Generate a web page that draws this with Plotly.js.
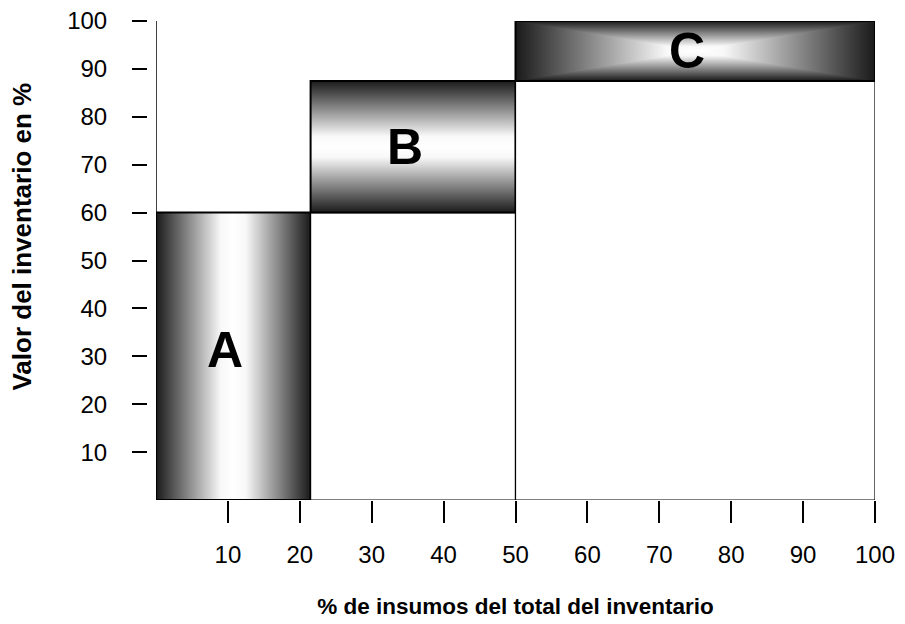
<!DOCTYPE html>
<html>
<head>
<meta charset="utf-8">
<script src="https://cdn.plot.ly/plotly-3.0.1.min.js"></script>
<style>html,body{margin:0;padding:0;background:#fff;}#chart{width:905px;height:624px;}</style>
</head>
<body>
<div id="chart"></div>
<script>
// ---- data ----
const classes = ['A', 'B', 'C'];
const cumItemsPct = [21.5, 50, 100];     // cumulative % of items (x)
const cumValuePct = [60, 87.5, 100];     // cumulative % of inventory value (y)
const gradientType = ['horizontal', 'vertical', 'pyramid'];
const xTicks = [10, 20, 30, 40, 50, 60, 70, 80, 90, 100];
const yTicks = [10, 20, 30, 40, 50, 60, 70, 80, 90, 100];

const DARK = '#1a1a1a', WHITE = '#ffffff';
const csSym = [[0, DARK], [0.42, '#f8f8f8'], [0.5, WHITE], [0.58, '#f8f8f8'], [1, DARK]];
const csUp = [[0, DARK], [0.84, '#f8f8f8'], [1, WHITE]];
const csDown = [[0, WHITE], [0.16, '#f8f8f8'], [1, DARK]];

const traces = [];
const annotations = [];
for (let i = 0; i < classes.length; i++) {
  const x0 = i === 0 ? 0 : cumItemsPct[i - 1];
  const x1 = cumItemsPct[i];
  const y0 = i === 0 ? 0 : cumValuePct[i - 1];
  const y1 = cumValuePct[i];
  const xm = (x0 + x1) / 2, ym = (y0 + y1) / 2;
  // white column below the class box
  if (y0 > 0) {
    traces.push({
      type: 'scatter', mode: 'lines', x: [x0, x1, x1, x0, x0], y: [0, 0, y0, y0, 0],
      fill: 'toself', fillcolor: '#ffffff', line: {color: '#000', width: 1.2},
      hoverinfo: 'skip'
    });
  }
  const t = gradientType[i];
  if (t === 'horizontal' || t === 'pyramid') {
    traces.push({
      type: 'scatter', mode: 'none', x: [x0, x1, x1, x0, x0], y: [y0, y0, y1, y1, y0],
      fill: 'toself', fillgradient: {type: 'horizontal', colorscale: csSym, start: x0, stop: x1},
      hoverinfo: 'skip'
    });
  }
  if (t === 'vertical') {
    traces.push({
      type: 'scatter', mode: 'none', x: [x0, x1, x1, x0, x0], y: [y0, y0, y1, y1, y0],
      fill: 'toself', fillgradient: {type: 'vertical', colorscale: csSym, start: y0, stop: y1},
      hoverinfo: 'skip'
    });
  }
  if (t === 'pyramid') {
    // top and bottom wedges with vertical gradient
    traces.push({
      type: 'scatter', mode: 'none', x: [x0, x1, xm, x0], y: [y1, y1, ym, y1],
      fill: 'toself', fillgradient: {type: 'vertical', colorscale: csDown, start: ym, stop: y1},
      hoverinfo: 'skip'
    });
    traces.push({
      type: 'scatter', mode: 'none', x: [x0, x1, xm, x0], y: [y0, y0, ym, y0],
      fill: 'toself', fillgradient: {type: 'vertical', colorscale: csUp, start: y0, stop: ym},
      hoverinfo: 'skip'
    });
  }
  // outline of class box
  traces.push({
    type: 'scatter', mode: 'lines', x: [x0, x1, x1, x0, x0], y: [y0, y0, y1, y1, y0],
    line: {color: '#000', width: 2}, hoverinfo: 'skip'
  });
  annotations.push({
    x: xm, y: ym, xref: 'x', yref: 'y', text: '<b>' + classes[i] + '</b>', showarrow: false,
    xshift: -8, yshift: i === 0 ? 6 : 0,
    font: {family: 'Liberation Sans, Arial, sans-serif', size: 50, color: '#000'}
  });
}

annotations.push({
  xref: 'paper', yref: 'y', x: -0.1717, y: 55, xanchor: 'center', yanchor: 'middle',
  text: '<b>Valor del inventario en %</b>', textangle: -90, showarrow: false,
  font: {family: 'Liberation Sans, Arial, sans-serif', size: 26, color: '#000'}
});

const layout = {
  width: 905, height: 624,
  margin: {l: 147, r: 30, t: 21, b: 124, pad: 0},
  paper_bgcolor: '#fff', plot_bgcolor: '#fff',
  showlegend: false, hovermode: false,
  font: {family: 'Liberation Sans, Arial, sans-serif', size: 24, color: '#000'},
  xaxis: {
    domain: [9 / 728, 1], range: [0, 100], tickvals: xTicks, ticktext: xTicks.map(String),
    ticks: 'outside', ticklen: 22, tickwidth: 2, tickcolor: '#000',
    showline: false, showgrid: false, zeroline: false,
    ticklabelstandoff: 11,
    title: {text: '<b>% de insumos del total del inventario</b>', font: {size: 22.5}, standoff: 31}
  },
  yaxis: {
    anchor: 'free', position: 0, range: [0, 100], tickvals: yTicks, ticktext: yTicks.map(String),
    ticks: 'outside', ticklen: 15, tickwidth: 2, tickcolor: '#000',
    showline: false, showgrid: false, zeroline: false,
    ticklabelstandoff: 20
  },
  shapes: [
    {type: 'line', xref: 'x', yref: 'y', x0: 0, x1: 0, y0: 0, y1: 100, line: {color: '#000', width: 1.5}}
  ],
  annotations: annotations
};

Plotly.newPlot('chart', traces, layout, {displayModeBar: false, staticPlot: true});
</script>
</body>
</html>
